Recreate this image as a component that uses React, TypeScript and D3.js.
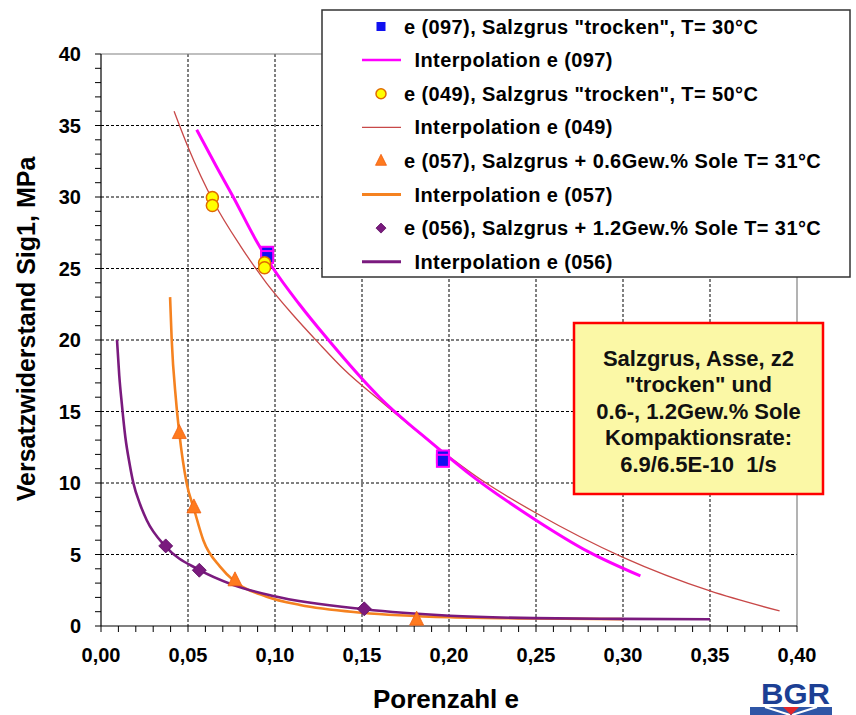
import React from 'react';
import * as d3 from 'd3';

// ---------- data ----------
const xTicks = [0, 0.05, 0.1, 0.15, 0.2, 0.25, 0.3, 0.35, 0.4];
const xTickLabels = ['0,00', '0,05', '0,10', '0,15', '0,20', '0,25', '0,30', '0,35', '0,40'];
const yTicks = [0, 5, 10, 15, 20, 25, 30, 35, 40];
const yTickLabels = ['0', '5', '10', '15', '20', '25', '30', '35', '40'];

// e (097) measured points & interpolation
const e097X = [0.0955, 0.0955, 0.1965, 0.1965];
const e097Y = [26.1, 25.8, 11.85, 11.55];
const e097CurveX = [0.055, 0.066, 0.076, 0.089, 0.099, 0.114, 0.13, 0.16, 0.19, 0.21, 0.25, 0.28, 0.31];
const e097CurveY = [34.7, 32.2, 30.0, 27.0, 25.0, 22.5, 20.1, 16.0, 12.8, 10.8, 7.4, 5.2, 3.5];

// e (049)
const e049X = [0.064, 0.064, 0.094, 0.094];
const e049Y = [29.97, 29.4, 25.4, 25.05];
const e049CurveX = [0.042, 0.05, 0.065, 0.08, 0.095, 0.11, 0.125, 0.14, 0.16, 0.19, 0.22, 0.25, 0.3, 0.35, 0.39];
const e049CurveY = [36.0, 33.5, 29.6, 26.6, 24.0, 21.8, 19.8, 17.9, 15.8, 12.8, 10.1, 7.9, 4.8, 2.45, 1.05];

// e (057)
const e057X = [0.045, 0.0534, 0.077, 0.1814];
const e057Y = [13.5, 8.3, 3.2, 0.45];
const e057CurveX = [0.0397, 0.0406, 0.0431, 0.045, 0.0492, 0.0534, 0.0588, 0.0684, 0.077, 0.0952, 0.1144, 0.15, 0.2006, 0.25, 0.3];
const e057CurveY = [23.0, 20.1, 15.8, 13.5, 10.0, 8.2, 6.0, 4.15, 3.1, 2.05, 1.47, 0.93, 0.61, 0.52, 0.48];

// e (056)
const e056X = [0.0372, 0.0565, 0.1513];
const e056Y = [5.6, 3.9, 1.2];
const e056CurveX = [0.0092, 0.0105, 0.012, 0.014, 0.0165, 0.0186, 0.0225, 0.0263, 0.0372, 0.0565, 0.076, 0.099, 0.1513, 0.2006, 0.249, 0.3, 0.35];
const e056CurveY = [20.0, 17.5, 15.5, 13.2, 11.3, 10.0, 8.5, 7.4, 5.55, 3.92, 2.87, 2.1, 1.17, 0.72, 0.55, 0.5, 0.47];

const legendLabels = [
  'e (097), Salzgrus "trocken", T= 30°C',
  'Interpolation e (097)',
  'e (049), Salzgrus "trocken", T= 50°C',
  'Interpolation e (049)',
  'e (057), Salzgrus + 0.6Gew.% Sole T= 31°C',
  'Interpolation e (057)',
  'e (056), Salzgrus + 1.2Gew.% Sole T= 31°C',
  'Interpolation e (056)',
];

const noteLines = [
  'Salzgrus, Asse, z2',
  '"trocken" und',
  '0.6-, 1.2Gew.% Sole',
  'Kompaktionsrate:',
  '6.9/6.5E-10\u00A0\u00A01/s',
];

const xTitle = 'Porenzahl e';
const yTitle = 'Versatzwiderstand Sig1, MPa';

// ---------- styles ----------
const C = {
  magenta: '#FF00FF',
  blue: '#1010F0',
  brown: '#C84848',
  yellow: '#FFFF00',
  yellowStroke: '#E06A00',
  orange: '#F58220',
  orangeMarker: '#FF7A1E',
  purple: '#7A1A7E',
};
const FONT = '"Liberation Sans", Arial, sans-serif';

const W = 856;
const H = 715;
const L = 101, R = 797, T = 54, B = 626;

export default function App() {
  const x = d3.scaleLinear().domain([0, 0.4]).range([L, R]);
  const y = d3.scaleLinear().domain([0, 40]).range([B, T]);

  const line = (xs: number[], ys: number[]) =>
    d3.line<number>()
      .x((_, i) => x(xs[i]))
      .y((d) => y(d))
      .curve(d3.curveMonotoneX)(ys) || '';

  const minorX = d3.range(0, 41).map((i) => i / 100);
  const minorY = d3.range(0, 41);

  const sq = (cx: number, cy: number, s: number, key: any, sw = 2) => (
    <rect key={key} x={cx - s / 2} y={cy - s / 2} width={s} height={s} fill={C.blue} stroke={C.magenta} strokeWidth={sw} />
  );
  const tri = (cx: number, cy: number, s: number, key: any) => (
    <path key={key} d={`M${cx},${cy - s * 0.6}L${cx + s / 2},${cy + s * 0.4}L${cx - s / 2},${cy + s * 0.4}Z`} fill={C.orangeMarker} stroke="#F06010" strokeWidth={0.8} />
  );
  const dia = (cx: number, cy: number, s: number, key: any) => (
    <path key={key} d={`M${cx},${cy - s / 2}L${cx + s / 2},${cy}L${cx},${cy + s / 2}L${cx - s / 2},${cy}Z`} fill={C.purple} stroke="#5A0A60" strokeWidth={0.8} />
  );
  const circ = (cx: number, cy: number, r: number, key: any) => (
    <circle key={key} cx={cx} cy={cy} r={r} fill={C.yellow} stroke={C.yellowStroke} strokeWidth={1.5} />
  );

  const legendY0 = 26.5;
  const legendStep = 33.6;
  const legendLines = [
    { color: C.magenta, w: 2.5 },
    { color: C.brown, w: 1.3 },
    { color: C.orange, w: 3 },
    { color: C.purple, w: 3 },
  ];

  return (
    <svg width={W} height={H} style={{ position: 'absolute', left: 0, top: 0, background: '#fff' }} fontFamily={FONT}>
      <rect x={0} y={0} width={W} height={H} fill="#fff" />

      {/* gridlines */}
      {xTicks.slice(1, -1).map((t) => (
        <line key={'gx' + t} x1={x(t)} x2={x(t)} y1={T} y2={B} stroke="#000" strokeWidth={1} strokeDasharray="3,2" />
      ))}
      {yTicks.slice(1, -1).map((t) => (
        <line key={'gy' + t} x1={L} x2={R} y1={y(t)} y2={y(t)} stroke="#000" strokeWidth={1} strokeDasharray="3,2" />
      ))}

      {/* frame */}
      <line x1={L} x2={R} y1={T} y2={T} stroke="#808080" strokeWidth={1.2} />
      <line x1={R} x2={R} y1={T} y2={B} stroke="#808080" strokeWidth={1.2} />
      <line x1={L} x2={L} y1={T} y2={B} stroke="#000" strokeWidth={1.2} />
      <line x1={L} x2={R} y1={B} y2={B} stroke="#000" strokeWidth={1.2} />

      {/* ticks */}
      {minorX.map((t) => (
        <line key={'tx' + t} x1={x(t)} x2={x(t)} y1={B} y2={B + 6} stroke="#000" strokeWidth={1} />
      ))}
      {minorY.map((t) => (
        <line key={'ty' + t} x1={L - 6} x2={L} y1={y(t)} y2={y(t)} stroke="#000" strokeWidth={1} />
      ))}

      {/* tick labels */}
      {xTicks.map((t, i) => (
        <text key={'lx' + t} x={x(t)} y={662} textAnchor="middle" fontSize={20} fontWeight="bold" fill="#000">{xTickLabels[i]}</text>
      ))}
      {yTicks.map((t, i) => (
        <text key={'ly' + t} x={81} y={y(t) + 7} textAnchor="end" fontSize={20} fontWeight="bold" fill="#000">{yTickLabels[i]}</text>
      ))}

      {/* axis titles */}
      <text x={446} y={708} textAnchor="middle" fontSize={26} fontWeight="bold" fill="#000">{xTitle}</text>
      <text transform="translate(35,329) rotate(-90)" textAnchor="middle" fontSize={25} fontWeight="bold" fill="#000">{yTitle}</text>

      {/* curves */}
      <path d={line(e049CurveX, e049CurveY)} fill="none" stroke={C.brown} strokeWidth={1.3} />
      <path d={line(e097CurveX, e097CurveY)} fill="none" stroke={C.magenta} strokeWidth={3} />
      <path d={line(e057CurveX, e057CurveY)} fill="none" stroke={C.orange} strokeWidth={2.6} />
      <path d={line(e056CurveX, e056CurveY)} fill="none" stroke={C.purple} strokeWidth={2.6} />

      {/* markers */}
      {e057X.map((v, i) => tri(x(v), y(e057Y[i]), 14, 't' + i))}
      {e056X.map((v, i) => dia(x(v), y(e056Y[i]), 14, 'd' + i))}
      {e097X.map((v, i) => sq(x(v), y(e097Y[i]), 12, 's' + i))}
      {e049X.map((v, i) => circ(x(v), y(e049Y[i]), 6, 'c' + i))}

      {/* note box */}
      <rect x={574} y={323} width={249} height={171} fill="#FBF8A6" stroke="#FF0000" strokeWidth={2.5} />
      {noteLines.map((s, i) => (
        <text key={'n' + i} x={698.5} y={366 + i * 26.4} textAnchor="middle" fontSize={22} fontWeight="bold" fill="#111">{s}</text>
      ))}

      {/* legend */}
      <rect x={322} y={10} width={528} height={267} fill="#fff" stroke="#333" strokeWidth={1.5} />
      {legendLabels.map((s, i) => {
        const cy = legendY0 + i * legendStep;
        const isLine = i % 2 === 1;
        const k = Math.floor(i / 2);
        let mark: any = null;
        if (isLine) {
          mark = <line x1={362} x2={401} y1={cy} y2={cy} stroke={legendLines[k].color} strokeWidth={legendLines[k].w} />;
        } else if (k === 0) {
          mark = <rect x={376.5} y={cy - 4.5} width={9} height={9} fill={C.blue} />;
        } else if (k === 1) {
          mark = circ(381, cy, 5, 'lc');
        } else if (k === 2) {
          mark = tri(381, cy, 11, 'lt');
        } else {
          mark = dia(381, cy, 10, 'ld');
        }
        return (
          <g key={'lg' + i}>
            {mark}
            <text x={isLine ? 414.5 : 404} y={cy + 7} fontSize={20} fontWeight="bold" letterSpacing={0.4} fill="#000">{s}</text>
          </g>
        );
      })}

      {/* BGR logo */}
      <text x={795.5} y={704} textAnchor="middle" fontSize={30} fontWeight={900} fill="#1C3F94" textLength={69} lengthAdjust="spacingAndGlyphs">BGR</text>
      <rect x={750} y={707} width={82} height={8} fill="#2F56A6" />
      <line x1={765} y1={707} x2={790} y2={715} stroke="#fff" strokeWidth={2} />
      <line x1={817} y1={707} x2={792} y2={715} stroke="#fff" strokeWidth={2} />
      <path d="M783,707L799,707L791,715Z" fill="#E3262A" />
    </svg>
  );
}
